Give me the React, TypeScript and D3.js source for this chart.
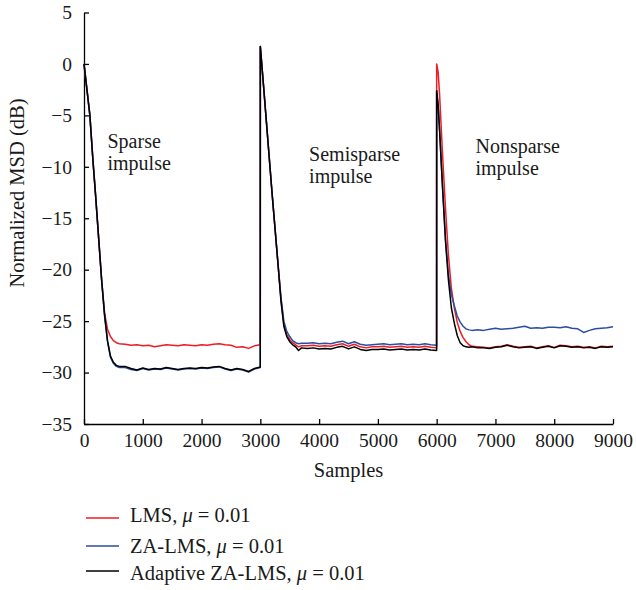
import React, { useEffect, useRef } from 'react';
import * as d3 from 'd3';

// sample index for each point (three segments: sparse, semisparse, nonsparse impulse)
const samples = [
  0, 50, 100, 150, 200, 250, 300, 350, 400, 450, 500, 550, 600,
  700, 800, 900, 1000, 1100, 1200, 1300, 1400, 1500, 1600, 1700, 1800, 1900,
  2000, 2100, 2200, 2300, 2400, 2500, 2600, 2700, 2800, 2900, 2999,
  3000, 3050, 3100, 3150, 3200, 3250, 3300, 3350, 3400, 3450, 3500, 3550, 3600, 3650, 3700,
  3800, 3900, 4000, 4100, 4200, 4300, 4400, 4500, 4600, 4700, 4800, 4900,
  5000, 5100, 5200, 5300, 5400, 5500, 5600, 5700, 5800, 5900, 5999,
  6000, 6025, 6050, 6100, 6150, 6200, 6250, 6300, 6350, 6400, 6450, 6500, 6550, 6600, 6700,
  6800, 6900, 7000, 7100, 7200, 7300, 7400, 7500, 7600, 7700, 7800, 7900,
  8000, 8100, 8200, 8300, 8400, 8500, 8600, 8700, 8800, 8900, 9000,
];

// normalized MSD (dB) for each series
const lms = [
  0, -2.5, -5.0, -9.2, -13.0, -17.0, -21.0, -24.2, -25.8, -26.5, -26.9, -27.1, -27.2,
  -27.25, -27.35, -27.3, -27.4, -27.35, -27.5, -27.4, -27.3, -27.35, -27.4, -27.3, -27.35, -27.4,
  -27.3, -27.35, -27.25, -27.2, -27.3, -27.35, -27.55, -27.5, -27.65, -27.4, -27.3,
  1.7, -1.8, -5.4, -9.0, -12.6, -16.0, -19.4, -22.8, -25.3, -26.3, -26.8, -27.1, -27.3, -27.5, -27.4,
  -27.4, -27.35, -27.45, -27.4, -27.45, -27.3, -27.2, -27.45, -27.25, -27.5, -27.6, -27.5,
  -27.5, -27.45, -27.55, -27.5, -27.45, -27.55, -27.5, -27.55, -27.45, -27.55, -27.6,
  0.0, -0.8, -3.0, -8.8, -14.0, -18.6, -21.8, -23.7, -25.1, -26.0, -26.6, -27.0, -27.3, -27.45, -27.5,
  -27.55, -27.6, -27.5, -27.45, -27.3, -27.45, -27.55, -27.5, -27.45, -27.6, -27.5, -27.4,
  -27.55, -27.35, -27.4, -27.5, -27.45, -27.55, -27.5, -27.6, -27.45, -27.5, -27.45,
];

const zaLms = [
  0, -2.5, -5.0, -9.2, -13.0, -17.0, -21.0, -24.5, -27.0, -28.5, -29.1, -29.4, -29.5,
  -29.5, -29.7, -29.8, -29.6, -29.75, -29.65, -29.7, -29.55, -29.65, -29.75, -29.65, -29.6, -29.65,
  -29.55, -29.6, -29.5, -29.45, -29.65, -29.8, -29.65, -29.75, -29.95, -29.65, -29.5,
  1.7, -1.8, -5.4, -9.0, -12.6, -16.0, -19.4, -22.6, -25.0, -26.0, -26.5, -26.9, -27.1, -27.2, -27.15,
  -27.15, -27.1, -27.2, -27.15, -27.2, -27.05, -26.95, -27.2, -27.0, -27.25, -27.35, -27.3,
  -27.25, -27.2, -27.3, -27.25, -27.2, -27.3, -27.25, -27.3, -27.2, -27.3, -27.35,
  -2.6, -4.0, -6.5, -12.0, -17.0, -20.5, -22.4, -23.5, -24.5, -25.1, -25.5, -25.75, -25.85, -25.9, -25.85,
  -25.9, -25.8, -25.7, -25.8, -25.75, -25.7, -25.6, -25.5, -25.7, -25.65, -25.7, -25.6,
  -25.6, -25.65, -25.55, -25.7, -25.75, -26.1, -25.9, -25.75, -25.7, -25.65, -25.55,
];

const adaptiveZaLms = [
  0, -2.5, -5.0, -9.2, -13.0, -17.0, -21.0, -24.4, -26.9, -28.4, -29.0, -29.3, -29.4,
  -29.4, -29.6, -29.75, -29.55, -29.7, -29.6, -29.65, -29.5, -29.6, -29.7, -29.6, -29.55, -29.6,
  -29.5, -29.55, -29.45, -29.4, -29.6, -29.75, -29.6, -29.7, -29.9, -29.6, -29.45,
  1.7, -1.8, -5.4, -9.0, -12.6, -16.0, -19.4, -23.0, -25.5, -26.5, -27.0, -27.3, -27.5, -27.85, -27.6,
  -27.65, -27.6, -27.7, -27.65, -27.7, -27.55, -27.45, -27.7, -27.5, -27.75, -27.85, -27.75,
  -27.75, -27.7, -27.8, -27.75, -27.7, -27.8, -27.75, -27.8, -27.7, -27.8, -27.85,
  -2.6, -4.0, -6.5, -12.0, -17.2, -21.0, -23.7, -25.2, -26.4, -27.1, -27.4, -27.5, -27.55, -27.5, -27.6,
  -27.6, -27.65, -27.55, -27.5, -27.35, -27.5, -27.6, -27.55, -27.5, -27.65, -27.55, -27.45,
  -27.6, -27.4, -27.45, -27.55, -27.5, -27.6, -27.55, -27.65, -27.5, -27.55, -27.5,
];

const seriesNames = ['LMS', 'ZA-LMS', 'Adaptive ZA-LMS'];
const seriesColors = ['#ee1c24', '#2b4ea2', '#000000'];
const stepSize = '0.01';

const xTicks = [0, 1000, 2000, 3000, 4000, 5000, 6000, 7000, 8000, 9000];
const yTicks = [5, 0, -5, -10, -15, -20, -25, -30, -35];

const annotations = [
  { lines: ['Sparse', 'impulse'], at: 400, level: -8.2 },
  { lines: ['Semisparse', 'impulse'], at: 3830, level: -9.4 },
  { lines: ['Nonsparse', 'impulse'], at: 6660, level: -8.7 },
];

const FONT = '"Liberation Serif", "DejaVu Serif", serif';

const App = () => {
  const ref = useRef<SVGSVGElement>(null);

  useEffect(() => {
    if (!ref.current) return;
    const svg = d3.select(ref.current);
    svg.selectAll('*').remove();

    const x = d3.scaleLinear().domain([0, 9000]).range([84, 613]);
    const y = d3.scaleLinear().domain([-35, 5]).range([424, 12.5]);

    // axes: ticks point inwards, no top/right frame
    const yAxis = svg.append('g')
      .attr('transform', `translate(${x(0)},0)`)
      .call(d3.axisLeft(y).tickValues(yTicks).tickSizeInner(-5).tickSizeOuter(0).tickPadding(12));
    const xAxis = svg.append('g')
      .attr('transform', `translate(0,${y(-35)})`)
      .call(d3.axisBottom(x).tickValues(xTicks).tickSizeInner(-5).tickSizeOuter(0).tickPadding(9).tickFormat(d3.format('d')));

    [yAxis, xAxis].forEach(g => {
      g.attr('font-family', FONT).attr('font-size', 19.5);
      g.selectAll('path, line').attr('stroke', '#000').attr('stroke-width', 1.3);
      g.selectAll('text').attr('fill', '#1a1a1a');
    });

    // axis titles
    svg.append('text')
      .attr('transform', 'translate(24,193) rotate(-90)')
      .attr('text-anchor', 'middle')
      .attr('font-family', FONT).attr('font-size', 20.5).attr('fill', '#1a1a1a')
      .text('Normalized MSD (dB)');
    svg.append('text')
      .attr('x', (x(0) + x(9000)) / 2).attr('y', 477)
      .attr('text-anchor', 'middle')
      .attr('font-family', FONT).attr('font-size', 20.5).attr('fill', '#1a1a1a')
      .text('Samples');

    // curves
    const allSeries = [lms, zaLms, adaptiveZaLms];
    const line = d3.line<number>()
      .x((_, i) => x(samples[i]))
      .y(d => y(d));
    allSeries.forEach((vals, k) => {
      svg.append('path')
        .datum(vals)
        .attr('fill', 'none')
        .attr('stroke', seriesColors[k])
        .attr('stroke-width', 1.5)
        .attr('stroke-linejoin', 'round')
        .attr('d', line);
    });

    // annotations
    annotations.forEach(a => {
      const t = svg.append('text')
        .attr('font-family', FONT).attr('font-size', 20).attr('fill', '#1a1a1a');
      a.lines.forEach((s, i) => {
        t.append('tspan')
          .attr('x', x(a.at))
          .attr('y', y(a.level) + i * 22)
          .text(s);
      });
    });

    // legend
    const legendRows = [518, 546, 571];
    const legendBase = [522, 553, 580];
    seriesNames.forEach((name, k) => {
      svg.append('line')
        .attr('x1', 86).attr('x2', 119)
        .attr('y1', legendRows[k]).attr('y2', legendRows[k])
        .attr('stroke', seriesColors[k]).attr('stroke-width', 1.3);
      const t = svg.append('text')
        .attr('x', 130).attr('y', legendBase[k])
        .attr('font-family', FONT).attr('font-size', 20.5).attr('fill', '#1a1a1a');
      t.append('tspan').text(`${name},\u00a0`);
      t.append('tspan').attr('font-style', 'italic').text('μ');
      t.append('tspan').text(`\u00a0=\u00a0${stepSize}`);
    });
  }, []);

  return (
    <svg
      ref={ref}
      width={636}
      height={590}
      style={{ position: 'absolute', left: 0, top: 0, background: '#fff' }}
    />
  );
};

export default App;
